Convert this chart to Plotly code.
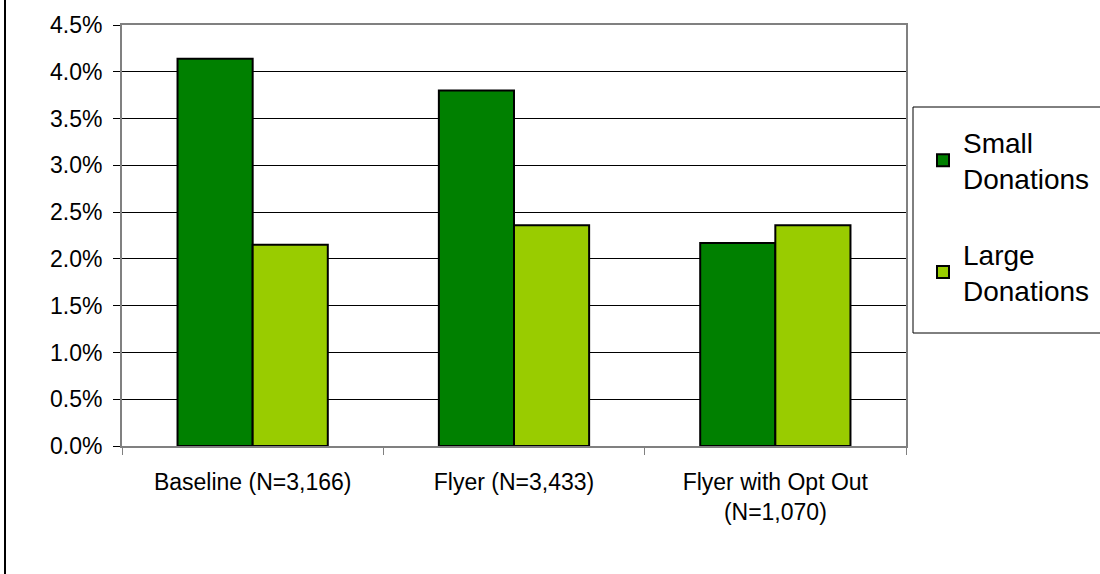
import plotly.graph_objects as go

categories = ["Baseline (N=3,166)", "Flyer (N=3,433)", "Flyer with Opt Out<br>(N=1,070)"]
small_donations = [0.0414, 0.0380, 0.0217]
large_donations = [0.0215, 0.0236, 0.0236]
series_names = ["Small<br>Donations", "Large<br>Donations"]
series_colors = ["#008000", "#99CC00"]

FONT = "Liberation Sans, Arial, sans-serif"

# pixel-to-paper helpers (plot area: x 122..906, y 25..446)
def px(x):
    return (x - 122) / 784

def py(y):
    return (446 - y) / 421

fig = go.Figure()
for name, vals, col, grp in zip(series_names, [small_donations, large_donations], series_colors, ["a", "b"]):
    fig.add_trace(go.Bar(
        x=categories, y=vals, name=name, legendgroup=grp,
        marker=dict(color=col, line=dict(color="#000000", width=2)),
    ))

fig.update_layout(
    width=1100, height=574,
    margin=dict(l=122, r=194, t=25, b=128),
    paper_bgcolor="white", plot_bgcolor="white",
    barmode="group", bargap=0.425, bargroupgap=0,
    font=dict(family=FONT, size=23, color="#000000"),
    showlegend=True,
    legend=dict(
        xref="container", x=923 / 1100, y=py(107), xanchor="left", yanchor="top",
        borderwidth=0, bgcolor="rgba(0,0,0,0)",
        font=dict(family=FONT, size=28, color="#000000"),
        tracegroupgap=36, traceorder="grouped",
        title=dict(text="&nbsp;", font=dict(size=8)),
    ),
    xaxis=dict(
        type="category", tickson="boundaries", ticks="outside", ticklen=7,
        tickcolor="#808080", tickwidth=1,
        showline=True, linecolor="#808080", linewidth=2, mirror=True,
        showgrid=False, ticklabelstandoff=14,
        tickfont=dict(family=FONT, size=23),
    ),
    yaxis=dict(
        range=[0, 0.045], dtick=0.005, tickformat=".1%",
        ticks="outside", ticklen=7, tickcolor="#000000",
        showline=True, linecolor="#808080", linewidth=2, mirror=True,
        showgrid=True, gridcolor="#000000", gridwidth=1, zeroline=False,
        ticklabelstandoff=6,
        tickfont=dict(family=FONT, size=23),
    ),
    shapes=[
        dict(type="line", xref="paper", yref="paper",
             x0=px(5), x1=px(5), y0=py(574), y1=py(0),
             line=dict(color="#000000", width=2)),
        dict(type="rect", xref="paper", yref="paper",
             x0=px(913), x1=px(1104), y0=py(333), y1=py(107),
             line=dict(color="#000000", width=1), fillcolor="rgba(0,0,0,0)"),
    ],
)

fig.write_html("out.html")
